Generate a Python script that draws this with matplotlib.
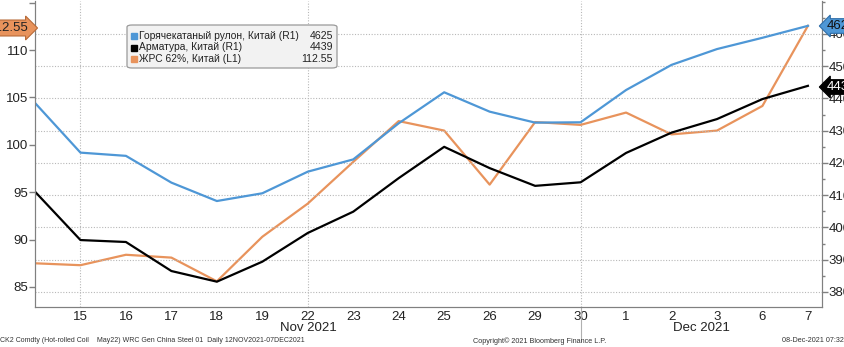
import matplotlib
matplotlib.use('Agg')
import matplotlib.pyplot as plt
from matplotlib.patches import FancyBboxPatch
from matplotlib.ticker import MultipleLocator, FixedLocator

plt.rcParams['font.family'] = ['Liberation Sans', 'DejaVu Sans']

dates = ['12', '15', '16', '17', '18', '19', '22', '23', '24', '25', '26',
         '29', '30', '1', '2', '3', '6', '7']
hrc = [4386, 4232, 4222, 4139, 4082, 4106, 4173, 4211, 4323, 4419, 4359,
       4325, 4326, 4426, 4504, 4553, 4588, 4625]
rebar = [4111, 3961, 3955, 3865, 3832, 3894, 3983, 4049, 4153, 4250, 4184,
         4129, 4140, 4231, 4294, 4336, 4398, 4439]
ore = [87.5, 87.3, 88.4, 88.1, 85.6, 90.3, 93.8, 98.2, 102.5, 101.5, 95.8,
       102.4, 102.1, 103.4, 101.1, 101.5, 104.1, 112.55]
names = ['Горячекатаный рулон, Китай (R1)', 'Арматура, Китай (R1)', 'ЖРС 62%, Китай (L1)']
last = ['4625', '4439', '112.55']
months = ['Nov 2021', 'Dec 2021']

blue = '#4e97d6'
black = '#000000'
orange = '#e8935c'
grey = '#808080'
txt = '#222222'
W, H = 845, 347

def fx(px):
    return px / W

def fy(py):
    return 1 - py / H

fig = plt.figure(figsize=(8.45, 3.47), dpi=100)
ax = fig.add_axes([fx(35), fy(307), fx(822) - fx(35), fy(1) - fy(307)])
ax2 = ax.twinx()

x = list(range(len(dates)))
ax.plot(x, ore, color=orange, lw=1.6, zorder=3)
ax2.plot(x, rebar, color=black, lw=1.6)
ax2.plot(x, hrc, color=blue, lw=1.6)

ax.set_xlim(0, 17.31)
ax.set_ylim(82.89, 115.17)
ax2.set_ylim(3753.5, 4702)

ax.set_yticks([85, 90, 95, 100, 105, 110])
ax.yaxis.set_minor_locator(FixedLocator([115]))
ax2.set_yticks([3800, 3900, 4000, 4100, 4200, 4300, 4400, 4500, 4600])
ax2.yaxis.set_minor_locator(MultipleLocator(50))
ax2.grid(axis='y', color='#b8b8b8', ls=(0, (1, 1.5)), lw=0.8)

ax.set_xticks(x)
ax.set_xticklabels([''] + dates[1:])
for i in (1, 6, 12):
    ax.axvline(i, color='#b8b8b8', ls=(0, (1, 1.5)), lw=0.8, zorder=0)
ax.plot([12, 12], [0, -0.11], transform=ax.get_xaxis_transform(),
        color='#b0b0b0', lw=0.8, clip_on=False)

for a in (ax, ax2):
    for s in a.spines.values():
        s.set_color(grey)
    a.spines['top'].set_visible(False)
ax.tick_params(axis='x', length=0, pad=3, labelsize=9.5, colors=txt)
ax.tick_params(axis='y', which='major', length=4, width=1, colors=grey,
               labelcolor=txt, labelsize=9.5, pad=1)
ax.tick_params(axis='y', which='minor', length=4, width=1, colors=grey)
ax2.tick_params(axis='y', which='major', length=4, width=1, colors=grey,
                labelcolor=txt, labelsize=9.5, pad=0.5)
ax2.tick_params(axis='y', which='minor', length=2, width=1, colors=grey)

fig.text(fx(308), fy(328), months[0], ha='center', va='center', fontsize=9.5, color=txt)
fig.text(fx(701), fy(328), months[1], ha='center', va='center', fontsize=9.5, color=txt)

# legend box
leg = FancyBboxPatch((fx(127), fy(68)), fx(337) - fx(127), fy(25) - fy(68),
                     boxstyle='round,pad=0,rounding_size=0.006', transform=fig.transFigure,
                     facecolor='#f2f2f2', edgecolor='#9a9a9a', lw=0.9)
fig.patches.append(leg)
for name, val, col, yy in zip(names, last, [blue, black, orange], [36, 47.5, 59]):
    fig.patches.append(plt.Rectangle((fx(131), fy(yy + 3)), fx(6), fy(0) - fy(6),
                                     transform=fig.transFigure, color=col))
    fig.text(fx(139), fy(yy), name, ha='left', va='center', fontsize=7.4, color=txt)
    fig.text(fx(333), fy(yy), val, ha='right', va='center', fontsize=7.6, color=txt)

# value tags
fig.text(fx(29), fy(28), last[2], ha='right', va='center', fontsize=9.5, color=txt,
         bbox=dict(boxstyle='rarrow,pad=0.15', fc=orange, ec='#b86a38', lw=0.8))
fig.text(fx(827), fy(26), last[0], ha='left', va='center', fontsize=9.5, color='#111111',
         bbox=dict(boxstyle='larrow,pad=0.1', fc=blue, ec='#2f6ea8', lw=0.8))
fig.text(fx(827), fy(87), last[1], ha='left', va='center', fontsize=9.5, color='white',
         bbox=dict(boxstyle='larrow,pad=0.1', fc='black', ec='black', lw=0.8))

# footer
fig.text(fx(0), fy(341), 'CK2 Comdty (Hot-rolled Coil    May22) WRC Gen China Steel 01  Daily 12NOV2021-07DEC2021',
         ha='left', va='center', fontsize=5.0, color='#333333')
fig.text(fx(540), fy(341), 'Copyright\u00a9 2021 Bloomberg Finance L.P.', ha='center', va='center',
         fontsize=5.2, color='#333333')
fig.text(fx(782), fy(341), '08-Dec-2021 07:32:53', ha='left', va='center', fontsize=5.2, color='#333333')

fig.savefig('out.png', dpi=100)
